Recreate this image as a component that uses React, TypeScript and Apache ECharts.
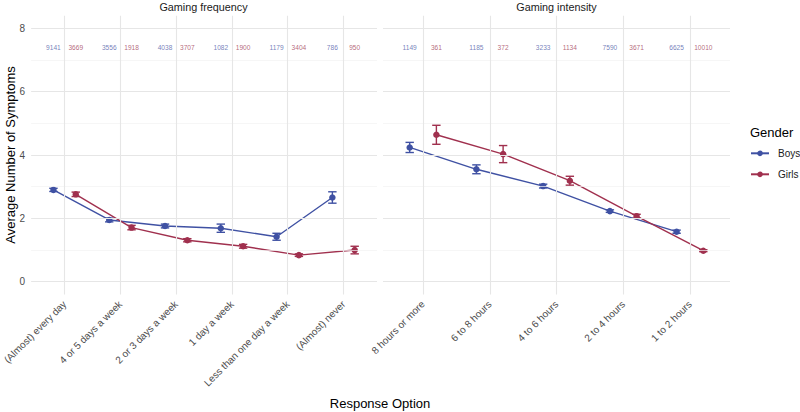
import React, { useEffect, useRef } from "react";
import * as echarts from "echarts";

const freqCats = ["(Almost) every day", "4 or 5 days a week", "2 or 3 days a week", "1 day a week", "Less than one day a week", "(Almost) never"];
const freqBoys = [2.90, 1.95, 1.76, 1.69, 1.42, 2.66];
const freqBoysErr = [0.05, 0.06, 0.06, 0.13, 0.11, 0.18];
const freqGirls = [2.76, 1.71, 1.31, 1.12, 0.84, 1.00];
const freqGirlsErr = [0.07, 0.07, 0.05, 0.06, 0.04, 0.12];
const freqBoysN = [9141, 3556, 4038, 1082, 1179, 786];
const freqGirlsN = [3669, 1918, 3707, 1900, 3404, 950];

const intCats = ["8 hours or more", "6 to 8 hours", "4 to 6 hours", "2 to 4 hours", "1 to 2 hours"];
const intBoys = [4.24, 3.55, 3.02, 2.23, 1.58];
const intBoysErr = [0.16, 0.14, 0.06, 0.04, 0.05];
const intGirls = [4.64, 4.03, 3.19, 2.07, 0.98];
const intGirlsErr = [0.30, 0.27, 0.14, 0.06, 0.03];
const intBoysN = [1149, 1185, 3233, 7590, 6625];
const intGirlsN = [361, 372, 1134, 3671, 10010];

const yTicks = [0, 2, 4, 6, 8];
const yMinor = [1, 3, 5, 7];

const BLUE = "#3F51A3";
const RED = "#A0304E";
const BLUE_TXT = "#5260A9";
const RED_TXT = "#A33F59";
const FONT = "Liberation Sans, Arial, sans-serif";
const DODGE = 0.2;
const LABEL_Y = 7.4;

function buildPanel(gi: number, cats: string[], boys: number[], boysErr: number[], girls: number[], girlsErr: number[], boysN: number[], girlsN: number[]) {
  const series: any[] = [];
  const gridMarks: any[] = [];
  yTicks.forEach((v) => gridMarks.push({ yAxis: v, lineStyle: { color: "#E6E6E6", width: 1.1, type: "solid" } }));
  yMinor.forEach((v) => gridMarks.push({ yAxis: v, lineStyle: { color: "#F2F2F2", width: 0.7, type: "solid" } }));
  cats.forEach((_, i) => gridMarks.push({ xAxis: i, lineStyle: { color: "#E6E6E6", width: 1.1, type: "solid" } }));

  const groups = [
    { name: "Boys", vals: boys, err: boysErr, n: boysN, color: BLUE, txt: BLUE_TXT, off: -DODGE },
    { name: "Girls", vals: girls, err: girlsErr, n: girlsN, color: RED, txt: RED_TXT, off: DODGE },
  ];

  groups.forEach((g, k) => {
    const s: any = {
      type: "scatter",
      xAxisIndex: gi,
      yAxisIndex: gi,
      symbolSize: 0,
      silent: true,
      z: 1,
      data: g.n.map((n, i) => [i + g.off, LABEL_Y, n]),
      label: {
        show: true,
        position: "inside",
        fontSize: 6.6,
        fontFamily: FONT,
        color: g.txt,
        formatter: (p: any) => String(p.value[2]),
      },
    };
    if (k === 0) {
      s.markLine = {
        silent: true,
        symbol: ["none", "none"],
        label: { show: false },
        animation: false,
        data: gridMarks,
      };
    }
    series.push(s);
  });

  groups.forEach((g) => {
    series.push({
      type: "custom",
      xAxisIndex: gi,
      yAxisIndex: gi,
      z: 3,
      silent: true,
      data: g.vals.map((v, i) => [i + g.off, v - g.err[i], v + g.err[i]]),
      encode: { x: 0, y: [1, 2] },
      renderItem: (params: any, api: any) => {
        const x = api.value(0);
        const lo = api.coord([x, api.value(1)]);
        const hi = api.coord([x, api.value(2)]);
        const w = 4.2;
        const st = { stroke: g.color, lineWidth: 1.4 };
        return {
          type: "group",
          children: [
            { type: "line", shape: { x1: lo[0], y1: lo[1], x2: hi[0], y2: hi[1] }, style: st },
            { type: "line", shape: { x1: lo[0] - w, y1: lo[1], x2: lo[0] + w, y2: lo[1] }, style: st },
            { type: "line", shape: { x1: hi[0] - w, y1: hi[1], x2: hi[0] + w, y2: hi[1] }, style: st },
          ],
        };
      },
    });
    series.push({
      type: "line",
      name: g.name,
      xAxisIndex: gi,
      yAxisIndex: gi,
      z: 4,
      data: g.vals.map((v, i) => [i + g.off, v]),
      symbol: "circle",
      symbolSize: 6.5,
      showSymbol: true,
      itemStyle: { color: g.color },
      lineStyle: { color: g.color, width: 1.4 },
    });
  });
  return series;
}

function xAxisFor(gi: number, cats: string[]) {
  return {
    type: "value",
    gridIndex: gi,
    min: -0.6,
    max: cats.length - 0.4,
    interval: 0.2,
    axisLine: { show: false },
    axisTick: { show: false },
    splitLine: { show: false },
    axisLabel: {
      show: true,
      rotate: 45,
      margin: 8,
      fontSize: 10,
      color: "#4D4D4D",
      fontFamily: FONT,
      showMinLabel: true,
      showMaxLabel: true,
      formatter: (v: number) => {
        const r = Math.round(v);
        if (Math.abs(v - r) < 1e-6 && r >= 0 && r < cats.length) return cats[r];
        return "";
      },
    },
  };
}

function yAxisFor(gi: number, showLabels: boolean) {
  return {
    type: "value",
    gridIndex: gi,
    min: -0.4,
    max: 8.4,
    interval: 0.4,
    axisLine: { show: false },
    axisTick: { show: false },
    splitLine: { show: false },
    axisLabel: {
      show: showLabels,
      margin: 6,
      fontSize: 10,
      color: "#4D4D4D",
      fontFamily: FONT,
      formatter: (v: number) => {
        const r = Math.round(v);
        if (Math.abs(v - r) < 1e-6 && yTicks.indexOf(r) >= 0) return String(r);
        return "";
      },
    },
  };
}

export default function App() {
  const ref = useRef<HTMLDivElement>(null);
  useEffect(() => {
    if (!ref.current) return;
    const chart = echarts.init(ref.current, null, { renderer: "svg" });
    const option: any = {
      animation: false,
      backgroundColor: "#FFFFFF",
      textStyle: { fontFamily: FONT },
      grid: [
        { left: 30, top: 15.7, width: 347, height: 278.7 },
        { left: 383, top: 15.7, width: 347, height: 278.7 },
      ],
      xAxis: [xAxisFor(0, freqCats), xAxisFor(1, intCats)],
      yAxis: [yAxisFor(0, true), yAxisFor(1, false)],
      legend: {
        data: ["Boys", "Girls"],
        orient: "vertical",
        left: 750,
        top: 147.3,
        padding: 0,
        itemWidth: 18,
        itemHeight: 7,
        itemGap: 9,
        selectedMode: false,
        textStyle: { fontSize: 10, lineHeight: 12, color: "#1A1A1A", fontFamily: FONT, padding: [0, 0, 0, 4] },
      },
      graphic: [
        { type: "text", x: 203.5, y: 7, style: { text: "Gaming frequency", font: `10.8px ${FONT}`, fill: "#1A1A1A", textAlign: "center", textVerticalAlign: "middle" } },
        { type: "text", x: 556.5, y: 7, style: { text: "Gaming intensity", font: `10.8px ${FONT}`, fill: "#1A1A1A", textAlign: "center", textVerticalAlign: "middle" } },
        { type: "text", x: 380, y: 403, style: { text: "Response Option", font: `13px ${FONT}`, fill: "#000000", textAlign: "center", textVerticalAlign: "middle" } },
        { type: "text", x: 10, y: 155, rotation: Math.PI / 2, style: { text: "Average Number of Symptoms", font: `13px ${FONT}`, fill: "#000000", textAlign: "center", textVerticalAlign: "middle" } },
        { type: "text", x: 750, y: 132, style: { text: "Gender", font: `13px ${FONT}`, fill: "#000000", textAlign: "left", textVerticalAlign: "middle" } },
      ],
      series: [
        ...buildPanel(0, freqCats, freqBoys, freqBoysErr, freqGirls, freqGirlsErr, freqBoysN, freqGirlsN),
        ...buildPanel(1, intCats, intBoys, intBoysErr, intGirls, intGirlsErr, intBoysN, intGirlsN),
      ],
    };
    chart.setOption(option);
    return () => chart.dispose();
  }, []);
  return <div ref={ref} style={{ position: "fixed", left: 0, top: 0, width: 800, height: 412 }} />;
}
